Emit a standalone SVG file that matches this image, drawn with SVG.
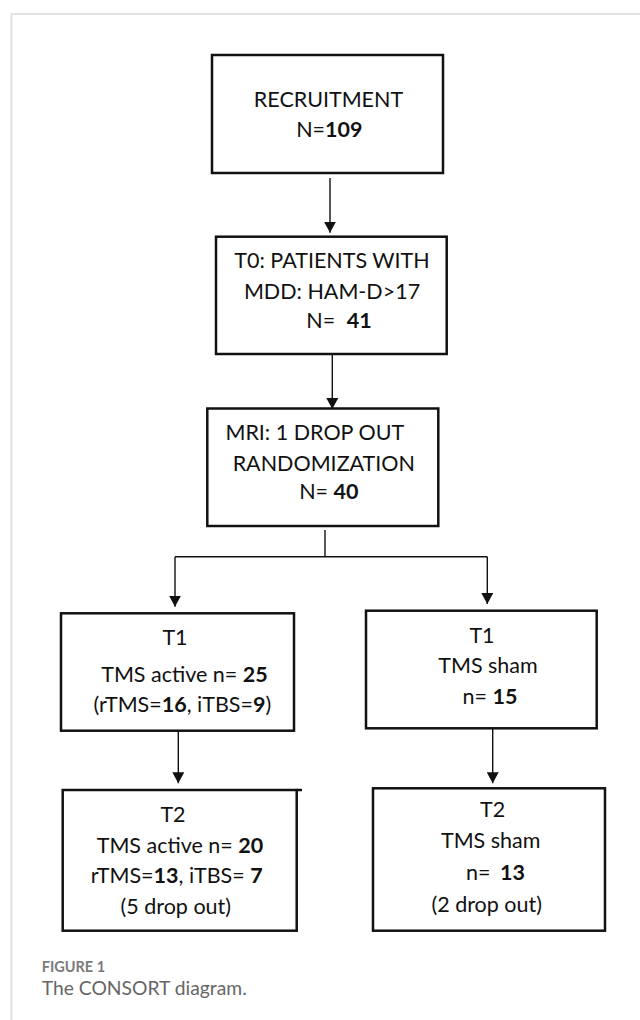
<svg xmlns="http://www.w3.org/2000/svg" width="640" height="1020" viewBox="0 0 640 1020">
<style>
.box{fill:#fff;stroke:#111;stroke-width:2.5}
.t{font-family:Lato,"Liberation Sans",sans-serif;font-size:21.5px;fill:#111;text-anchor:middle}
.b{font-weight:bold}
.c{fill:none;stroke:#111;stroke-width:1.4}
.frame{stroke:#e2e2e2;stroke-width:2;fill:none}
</style>
<defs>
<marker id="ah" markerUnits="userSpaceOnUse" markerWidth="12" markerHeight="11" refX="6" refY="11" orient="0" viewBox="0 0 12 11">
<path d="M0,0 L12,0 L6,11 Z" fill="#111"/>
</marker>
</defs>
<rect width="640" height="1020" fill="#fff"/>
<path class="frame" d="M640,14 H11.5 V1020"/>
<g id="connectors">
<path class="c" d="M330,178 V232.7" marker-end="url(#ah)"/>
<path class="c" d="M332.3,354 V409" marker-end="url(#ah)"/>
<path class="c" d="M325,530 V556.7"/>
<path class="c" d="M175,556.7 H487.3"/>
<path class="c" d="M175,556.7 V606.7" marker-end="url(#ah)"/>
<path class="c" d="M487.3,556.7 V604" marker-end="url(#ah)"/>
<path class="c" d="M178.3,730.7 V783.3" marker-end="url(#ah)"/>
<path class="c" d="M492.7,728.3 V783.3" marker-end="url(#ah)"/>
</g>
<g id="recruitment">
<rect class="box" x="212" y="55" width="231" height="118"/>
<text class="t" x="328.5" y="106.7">RECRUITMENT</text>
<text class="t" x="329.3" y="137.3">N=<tspan class="b">109</tspan></text>
</g>
<g id="t0">
<rect class="box" x="216" y="236.7" width="230.7" height="117.3"/>
<text class="t" x="332" y="268.3">T0: PATIENTS WITH</text>
<text class="t" x="332" y="299.3">MDD: HAM-D&gt;17</text>
<text class="t" x="339" y="327.7">N= <tspan class="b" dx="6">41</tspan></text>
</g>
<g id="mri">
<rect class="box" x="207.3" y="408.5" width="231" height="117.5"/>
<text class="t" x="314.8" y="440">MRI: 1 DROP OUT</text>
<text class="t" x="323.8" y="470.5">RANDOMIZATION</text>
<text class="t" x="328.8" y="499">N= <tspan class="b">40</tspan></text>
</g>
<g id="t1-active">
<rect class="box" x="61" y="613.3" width="233" height="117.4"/>
<text class="t" x="175" y="645">T1</text>
<text class="t" x="184.5" y="682.3">TMS active n= <tspan class="b">25</tspan></text>
<text class="t" x="182.3" y="711.7">(rTMS=<tspan class="b">16</tspan>, iTBS=<tspan class="b">9</tspan>)</text>
</g>
<g id="t1-sham">
<rect class="box" x="366" y="610.7" width="230.7" height="117.6"/>
<text class="t" x="482" y="643.3">T1</text>
<text class="t" x="488" y="673.3">TMS sham</text>
<text class="t" x="490" y="704">n= <tspan class="b">15</tspan></text>
</g>
<g id="t2-active">
<rect class="box" x="62.7" y="790" width="234" height="140.7"/>
<path class="box" d="M296.7,790 H302"/>
<text class="t" x="173" y="821.7">T2</text>
<text class="t" x="180" y="852.7">TMS active n= <tspan class="b">20</tspan></text>
<text class="t" x="176.8" y="883.3">rTMS=<tspan class="b">13</tspan>, iTBS= <tspan class="b">7</tspan></text>
<text class="t" x="175.8" y="914">(5 drop out)</text>
</g>
<g id="t2-sham">
<rect class="box" x="373" y="788.3" width="232" height="142.4"/>
<text class="t" x="492.7" y="816.7">T2</text>
<text class="t" x="490.7" y="848.3">TMS sham</text>
<text class="t" x="495.5" y="880">n= <tspan class="b" dx="4">13</tspan></text>
<text class="t" x="486.7" y="911.7">(2 drop out)</text>
</g>
<g id="caption">
<text x="41.7" y="971.7" style="font-family:Lato,'Liberation Sans',sans-serif;font-size:14.5px;font-weight:bold;fill:#7a7a7a">FIGURE 1</text>
<text x="41.7" y="995" style="font-family:Lato,'Liberation Sans',sans-serif;font-size:19.3px;fill:#666">The CONSORT diagram.</text>
</g>
</svg>
